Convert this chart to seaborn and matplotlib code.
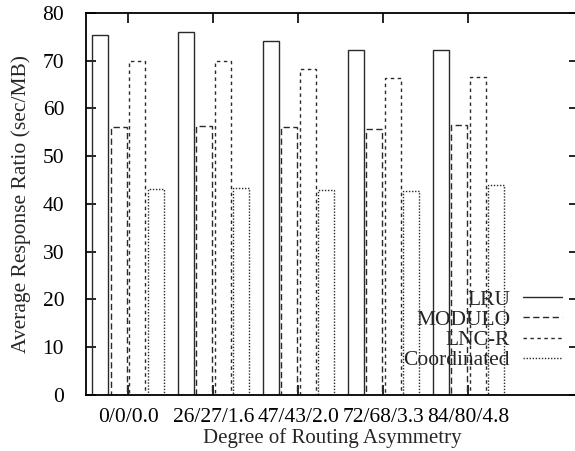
import matplotlib
matplotlib.use("Agg")
import matplotlib.pyplot as plt
from matplotlib.lines import Line2D
import numpy as np
import pandas as pd
import seaborn as sns

# Routing asymmetry settings (x categories)
asymmetry = ["0/0/0.0", "26/27/1.6", "47/43/2.0", "72/68/3.3", "84/80/4.8"]
policies = ["LRU", "MODULO", "LNC-R", "Coordinated"]

# Average response ratio (sec/MB) per policy
lru = [75.4, 75.9, 74.0, 72.3, 72.3]
modulo = [56.0, 56.2, 56.1, 55.6, 56.6]
lnc_r = [69.8, 70.0, 68.3, 66.3, 66.5]
coordinated = [43.1, 43.4, 43.0, 42.7, 43.9]

yticks = [0, 10, 20, 30, 40, 50, 60, 70, 80]

df = pd.DataFrame({
    "asym": asymmetry * 4,
    "policy": np.repeat(policies, len(asymmetry)),
    "ratio": lru + modulo + lnc_r + coordinated,
})

sns.set_style("ticks")
plt.rcParams["font.family"] = ["Liberation Serif", "DejaVu Serif"]
fs = 15.5

edge = "#2a2a2a"
styles = {
    "LRU": "-",
    "MODULO": (0, (4.5, 2.5)),
    "LNC-R": (0, (2.5, 2.5)),
    "Coordinated": (0, (1, 1.2)),
}

fig = plt.figure(figsize=(5.75, 4.51), dpi=100)
ax = fig.add_axes([0.149, 0.1242, 0.858, 0.8476])

sns.barplot(data=df, x="asym", y="ratio", hue="policy", hue_order=policies,
            order=asymmetry, fill=False, palette=[edge] * 4, width=0.87,
            gap=0.135, errorbar=None, linewidth=1.0, legend=False, ax=ax)

for container, name in zip(ax.containers, policies):
    for bar in container:
        bar.set_linestyle(styles[name])
        bar.set_edgecolor(edge)

ax.set_xlim(-0.5, 5.3)
ax.set_ylim(0, 80)
ax.set_yticks(yticks)
ax.set_xlabel("Degree of Routing Asymmetry", fontsize=fs - 0.5, labelpad=1)
ax.set_ylabel("Average Response Ratio (sec/MB)", fontsize=fs, labelpad=8)
ax.tick_params(direction="in", top=True, right=True, length=7, width=1.2,
               labelsize=fs, colors="black")
ax.tick_params(axis="x", pad=9.5)
ax.tick_params(axis="y", pad=15.5)

for s in ax.spines.values():
    s.set_linewidth(1.3)
    s.set_color("black")

handles = [Line2D([0], [0], color=edge, lw=1.0, linestyle=styles[p]) for p in policies]
ax.legend(handles, policies, loc="upper right", bbox_to_anchor=(0.965, 0.275),
          frameon=False, markerfirst=False, handlelength=1.8,
          handletextpad=0.6, labelspacing=0.0, fontsize=fs, borderaxespad=0,
          borderpad=0)

fig.savefig("out.png", dpi=100)
